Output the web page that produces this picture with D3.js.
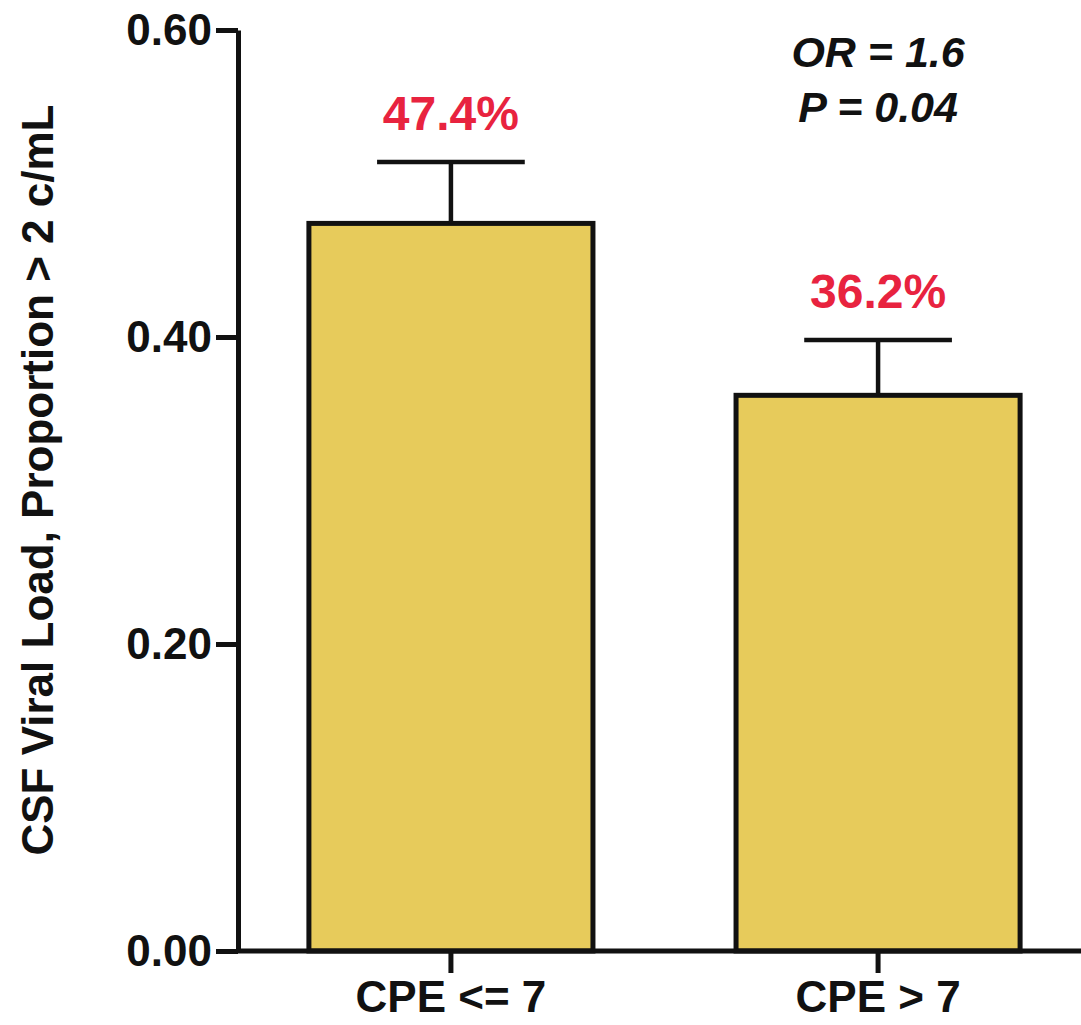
<!DOCTYPE html>
<html>
<head>
<meta charset="utf-8">
<script src="https://cdn.jsdelivr.net/npm/d3@7"></script>
<style>
  body { margin: 0; background: #fff; }
  svg { display: block; }
  text { font-family: "Liberation Sans", Arial, sans-serif; font-weight: bold; }
</style>
</head>
<body>
<svg id="chart" width="1081" height="1025"></svg>
<script>
// data
var groups = ["CPE <= 7", "CPE > 7"];
var proportions = [0.474, 0.362];
var errorTops = [0.514, 0.398];
var barLabels = ["47.4%", "36.2%"];
var yTicks = [0, 0.2, 0.4, 0.6];
var statLines = ["OR = 1.6", "P = 0.04"];

var w = 1081, h = 1025;
var axisX = 238, axisY = 951;

var svg = d3.select("#chart");

var y = d3.scaleLinear()
  .domain([0, 0.6])
  .range([axisY, 30]);

var x = d3.scaleBand()
  .domain(groups)
  .range([axisX, 1091])
  .paddingInner(0.335)
  .paddingOuter(0.166);

// bars
svg.selectAll("rect.bar")
  .data(proportions)
  .enter()
  .append("rect")
  .attr("class", "bar")
  .attr("x", function(d, i){ return x(groups[i]); })
  .attr("y", function(d){ return y(d); })
  .attr("width", x.bandwidth())
  .attr("height", function(d){ return y(0) - y(d); })
  .attr("fill", "#e7cb5b")
  .attr("stroke", "#111")
  .attr("stroke-width", 5);

// error bars (upper only)
var capW = x.bandwidth() * 0.52;
var err = svg.selectAll("g.err")
  .data(errorTops)
  .enter()
  .append("g")
  .attr("class", "err")
  .attr("stroke", "#111")
  .attr("stroke-width", 4.5);

err.append("line")
  .attr("x1", function(d, i){ return x(groups[i]) + x.bandwidth()/2; })
  .attr("x2", function(d, i){ return x(groups[i]) + x.bandwidth()/2; })
  .attr("y1", function(d, i){ return y(proportions[i]); })
  .attr("y2", function(d){ return y(d); });

err.append("line")
  .attr("x1", function(d, i){ return x(groups[i]) + x.bandwidth()/2 - capW/2; })
  .attr("x2", function(d, i){ return x(groups[i]) + x.bandwidth()/2 + capW/2; })
  .attr("y1", function(d){ return y(d); })
  .attr("y2", function(d){ return y(d); });

// percentage labels above the error bars
svg.selectAll("text.pct")
  .data(barLabels)
  .enter()
  .append("text")
  .attr("class", "pct")
  .attr("x", function(d, i){ return x(groups[i]) + x.bandwidth()/2; })
  .attr("y", function(d, i){ return y(errorTops[i]) - 32; })
  .attr("text-anchor", "middle")
  .attr("font-size", 48)
  .attr("fill", "#e8233f")
  .text(function(d){ return d; });

// y axis
var yAxis = svg.append("g")
  .attr("transform", "translate(" + axisX + ",0)")
  .call(d3.axisLeft(y)
    .tickValues(yTicks)
    .tickFormat(d3.format(".2f"))
    .tickSize(22)
    .tickSizeOuter(0)
    .tickPadding(4));

yAxis.selectAll("path, line").attr("stroke", "#111").attr("stroke-width", 5);
yAxis.selectAll("text").attr("font-size", 44).attr("fill", "#111");

// x axis
var xAxis = svg.append("g")
  .attr("transform", "translate(0," + axisY + ")")
  .call(d3.axisBottom(x)
    .tickSize(22)
    .tickSizeOuter(0)
    .tickPadding(8));

xAxis.select("path.domain").attr("d", "M" + (axisX - 2) + ",0H" + w);
xAxis.selectAll("path, line").attr("stroke", "#111").attr("stroke-width", 5);
xAxis.selectAll("text").attr("font-size", 44).attr("fill", "#111");

// y axis title
svg.append("text")
  .attr("transform", "translate(53,480) rotate(-90)")
  .attr("text-anchor", "middle")
  .attr("font-size", 44)
  .attr("fill", "#111")
  .text("CSF Viral Load, Proportion > 2 c/mL");

// odds ratio annotation
svg.selectAll("text.stat")
  .data(statLines)
  .enter()
  .append("text")
  .attr("class", "stat")
  .attr("x", x(groups[1]) + x.bandwidth()/2)
  .attr("y", function(d, i){ return 67 + i * 55; })
  .attr("text-anchor", "middle")
  .attr("font-size", 43)
  .attr("font-style", "italic")
  .attr("fill", "#111")
  .text(function(d){ return d; });
</script>
</body>
</html>
